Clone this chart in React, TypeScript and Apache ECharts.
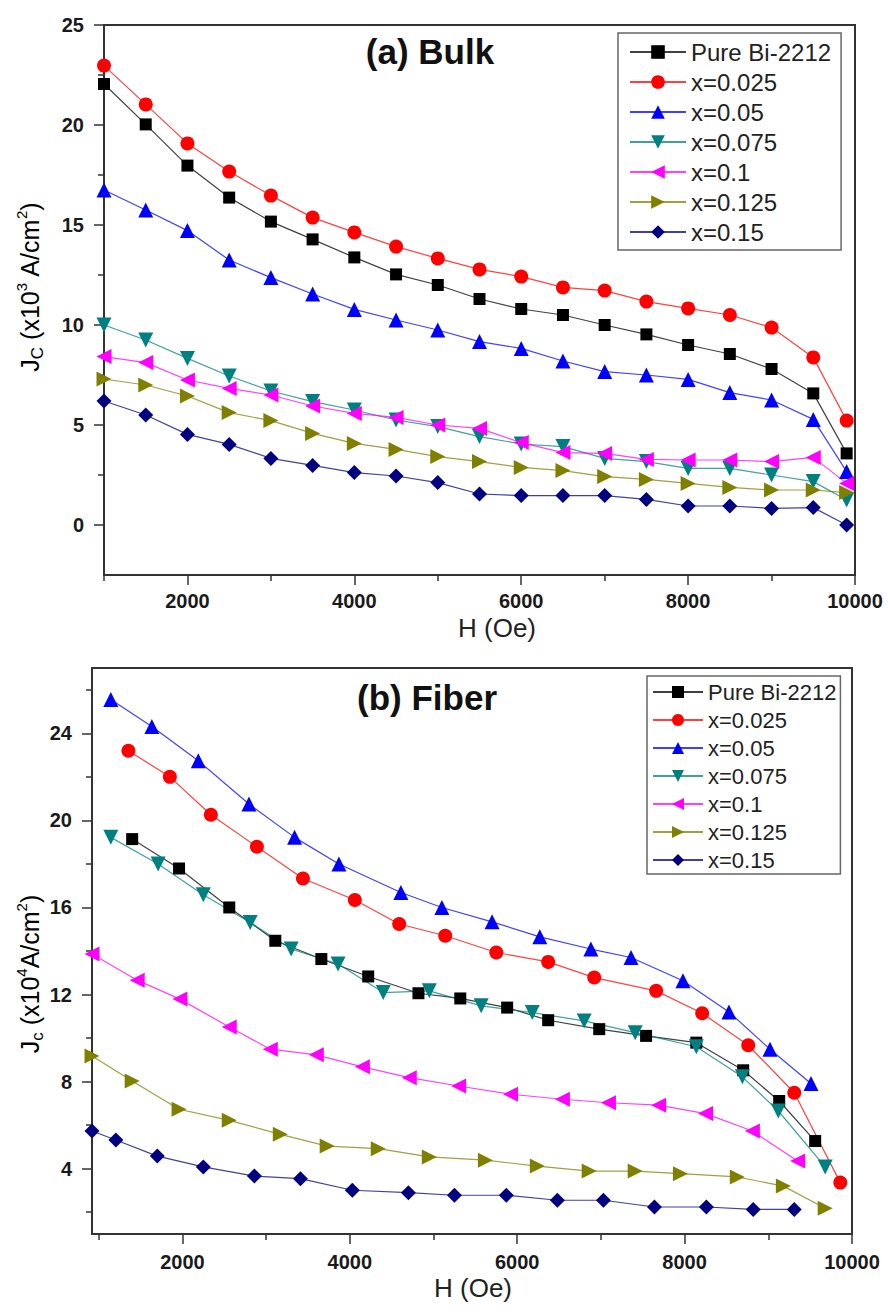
import React, { useEffect, useRef } from "react";
import * as echarts from "echarts";

// ---------- shared series definitions ----------
const seriesNames = ["Pure Bi-2212", "x=0.025", "x=0.05", "x=0.075", "x=0.1", "x=0.125", "x=0.15"];
const seriesColors = ["#000000", "#FF0000", "#0000FF", "#008080", "#FF00FF", "#808000", "#000080"];
const seriesSymbols = ["rect", "circle", "triangle", "triangle", "triangle", "triangle", "diamond"];
const seriesRotates = [0, 0, 0, 180, 90, -90, 0];
const seriesSymbolSizes = [12, 14, 15, 15, 15, 15, 15];

// ---------- (a) Bulk : Jc (x10^3 A/cm^2) vs H (Oe) ----------
const bulkH = [1000, 1500, 2000, 2500, 3000, 3500, 4000, 4500, 5000, 5500, 6000, 6500, 7000, 7500, 8000, 8500, 9000, 9500, 9900];
const bulkPure = [22.05, 20.03, 17.97, 16.37, 15.17, 14.28, 13.38, 12.53, 12.0, 11.3, 10.8, 10.5, 10.0, 9.53, 9.0, 8.55, 7.8, 6.58, 3.58];
const bulkX0025 = [22.97, 21.03, 19.08, 17.67, 16.47, 15.37, 14.63, 13.92, 13.33, 12.78, 12.42, 11.88, 11.72, 11.17, 10.83, 10.5, 9.87, 8.38, 5.22];
const bulkX005 = [16.75, 15.75, 14.72, 13.25, 12.37, 11.55, 10.78, 10.25, 9.75, 9.17, 8.83, 8.2, 7.67, 7.5, 7.28, 6.62, 6.25, 5.28, 2.67];
const bulkX0075 = [10.0, 9.25, 8.33, 7.45, 6.7, 6.17, 5.75, 5.25, 4.92, 4.42, 4.05, 3.92, 3.33, 3.17, 2.83, 2.83, 2.5, 2.17, 1.25];
const bulkX01 = [8.42, 8.12, 7.25, 6.83, 6.5, 5.95, 5.58, 5.38, 5.0, 4.83, 4.12, 3.62, 3.58, 3.28, 3.25, 3.25, 3.17, 3.38, 2.08];
const bulkX0125 = [7.3, 7.0, 6.45, 5.62, 5.22, 4.58, 4.08, 3.78, 3.42, 3.17, 2.88, 2.72, 2.42, 2.28, 2.08, 1.88, 1.75, 1.75, 1.62];
const bulkX015 = [6.2, 5.5, 4.53, 4.03, 3.33, 2.98, 2.62, 2.45, 2.12, 1.55, 1.47, 1.47, 1.47, 1.28, 0.95, 0.95, 0.83, 0.87, 0.0];

const bulkXMajorTicks = [2000, 4000, 6000, 8000, 10000];
const bulkXMinorTicks = [1000, 3000, 5000, 7000, 9000];
const bulkYMajorTicks = [0, 5, 10, 15, 20, 25];
const bulkYMinorTicks = [2.5, 7.5, 12.5, 17.5, 22.5];

// ---------- (b) Fiber : Jc (x10^4 A/cm^2) vs H (Oe) ----------
const fiberPureH = [1400, 1960, 2560, 3110, 3660, 4220, 4820, 5320, 5880, 6370, 6980, 7540, 8140, 8700, 9130, 9560];
const fiberPureJ = [19.14, 17.79, 16.0, 14.47, 13.63, 12.83, 12.06, 11.82, 11.4, 10.82, 10.41, 10.1, 9.79, 8.52, 7.11, 5.27];
const fiberX0025H = [1355, 1850, 2340, 2890, 3440, 4060, 4590, 5140, 5750, 6370, 6920, 7660, 8210, 8760, 9310, 9860];
const fiberX0025J = [23.2, 22.0, 20.26, 18.79, 17.33, 16.34, 15.24, 14.7, 13.93, 13.5, 12.78, 12.17, 11.14, 9.67, 7.49, 3.36];
const fiberX005H = [1145, 1635, 2190, 2795, 3340, 3870, 4610, 5100, 5700, 6270, 6880, 7360, 7980, 8530, 9020, 9510];
const fiberX005J = [25.55, 24.31, 22.74, 20.75, 19.22, 18.0, 16.69, 16.0, 15.34, 14.65, 14.09, 13.7, 12.63, 11.2, 9.49, 7.91];
const fiberX0075H = [1145, 1710, 2250, 2810, 3300, 3860, 4400, 4950, 5570, 6180, 6800, 7410, 8140, 8690, 9120, 9680];
const fiberX0075J = [19.22, 18.0, 16.58, 15.31, 14.09, 13.4, 12.09, 12.17, 11.48, 11.17, 10.79, 10.25, 9.6, 8.22, 6.65, 4.08];
const fiberX01H = [920, 1460, 1970, 2560, 3050, 3600, 4150, 4710, 5300, 5920, 6540, 7090, 7690, 8250, 8810, 9350];
const fiberX01J = [13.86, 12.66, 11.79, 10.51, 9.49, 9.23, 8.68, 8.18, 7.8, 7.42, 7.19, 7.03, 6.92, 6.53, 5.73, 4.35];
const fiberX0125H = [920, 1400, 1960, 2560, 3170, 3730, 4340, 4950, 5620, 6240, 6860, 7410, 7950, 8630, 9180, 9680];
const fiberX0125J = [9.18, 8.03, 6.73, 6.22, 5.58, 5.04, 4.92, 4.54, 4.39, 4.12, 3.89, 3.89, 3.77, 3.62, 3.2, 2.18];
const fiberX015H = [920, 1205, 1700, 2250, 2860, 3410, 4030, 4700, 5250, 5870, 6480, 7030, 7640, 8260, 8820, 9310];
const fiberX015J = [5.73, 5.32, 4.58, 4.08, 3.66, 3.54, 3.01, 2.9, 2.78, 2.78, 2.55, 2.55, 2.24, 2.24, 2.13, 2.13];

const fiberXMajorTicks = [2000, 4000, 6000, 8000, 10000];
const fiberXMinorTicks = [1000, 3000, 5000, 7000, 9000];
const fiberYMajorTicks = [4, 8, 12, 16, 20, 24];
const fiberYMinorTicks = [2, 6, 10, 14, 18, 22, 26];

const FONT = "'Liberation Sans', Arial, Helvetica, sans-serif";

const bulkValues = [bulkPure, bulkX0025, bulkX005, bulkX0075, bulkX01, bulkX0125, bulkX015];
const fiberHs = [fiberPureH, fiberX0025H, fiberX005H, fiberX0075H, fiberX01H, fiberX0125H, fiberX015H];
const fiberJs = [fiberPureJ, fiberX0025J, fiberX005J, fiberX0075J, fiberX01J, fiberX0125J, fiberX015J];

function makeSeries(i: number, data: number[][], axisIndex: number) {
  return {
    type: "line",
    name: seriesNames[i],
    xAxisIndex: axisIndex,
    yAxisIndex: axisIndex,
    data,
    symbol: seriesSymbols[i],
    symbolSize: seriesSymbolSizes[i],
    symbolRotate: seriesRotates[i],
    showSymbol: true,
    itemStyle: { color: seriesColors[i], opacity: 1 },
    lineStyle: { color: seriesColors[i], width: 1.2, opacity: 0.75 },
    emphasis: { disabled: true },
  };
}

function majorAxis(grid: number, min: number, max: number, ticks: number[], margin: number, pos: string) {
  return {
    type: "value",
    gridIndex: grid,
    position: pos,
    min,
    max,
    axisLine: { show: true, onZero: false, lineStyle: { color: "#333", width: 2 } },
    axisTick: { show: true, length: 10, customValues: ticks, lineStyle: { color: "#333", width: 1.5 } },
    axisLabel: {
      show: true,
      customValues: ticks,
      margin,
      formatter: (v: number) => "{b|" + String(v) + "}",
      rich: {
        b: { fontFamily: FONT, fontSize: 20, fontWeight: "bold", color: "#1a1a1a" },
      },
      fontFamily: FONT,
      fontSize: 20,
      fontWeight: "bold",
      color: "#1a1a1a",
    },
    splitLine: { show: false },
  };
}

function minorAxis(grid: number, min: number, max: number, ticks: number[], pos: string) {
  return {
    type: "value",
    gridIndex: grid,
    position: pos,
    min,
    max,
    axisLine: { show: false, onZero: false },
    axisTick: { show: true, length: 6, customValues: ticks, lineStyle: { color: "#333", width: 1.5 } },
    axisLabel: { show: false },
    splitLine: { show: false },
  };
}

function legendFor(left: number, top: number, fontSize: number, itemWidth: number, itemHeight: number, gap: number, padding: number[]) {
  return {
    orient: "vertical",
    left,
    top,
    data: seriesNames,
    selectedMode: false,
    itemWidth,
    itemHeight,
    itemGap: gap,
    padding,
    backgroundColor: "#fff",
    borderColor: "#666",
    borderWidth: 1.5,
    borderRadius: 0,
    textStyle: { fontFamily: FONT, fontSize, lineHeight: fontSize, color: "#222" },
  };
}

export default function App() {
  const ref = useRef<HTMLDivElement>(null);

  useEffect(() => {
    if (!ref.current) return;
    const chart = echarts.init(ref.current, undefined, { renderer: "svg" });

    const series: any[] = [];
    bulkValues.forEach((vals, i) => {
      series.push(makeSeries(i, bulkH.map((h, k) => [h, vals[k]]), 0));
    });
    fiberHs.forEach((hs, i) => {
      series.push(makeSeries(i, hs.map((h, k) => [h, fiberJs[i][k]]), 1));
    });

    const titleStyle = { fontFamily: FONT, fontSize: 35, fontWeight: "bold", fill: "#111", align: "center", verticalAlign: "middle" };
    const hStyle = { fontFamily: FONT, fontSize: 26, fill: "#222", align: "center", verticalAlign: "middle" };
    const richBase = {
      m: { fontFamily: FONT, fontSize: 25, lineHeight: 32, verticalAlign: "middle", color: "#222" },
      sup: { fontFamily: FONT, fontSize: 15, lineHeight: 15, verticalAlign: "top", color: "#222" },
      sub: { fontFamily: FONT, fontSize: 17, lineHeight: 17, verticalAlign: "bottom", color: "#222" },
    };

    chart.setOption({
      animation: false,
      backgroundColor: "#fff",
      grid: [
        { left: 104, top: 25, width: 751, height: 550, show: true, borderColor: "#333", borderWidth: 2, backgroundColor: "transparent" },
        { left: 92, top: 668, width: 760, height: 566, show: true, borderColor: "#333", borderWidth: 2, backgroundColor: "transparent" },
      ],
      xAxis: [
        majorAxis(0, 1000, 10000, bulkXMajorTicks, 16, "bottom"),
        majorAxis(1, 920, 10000, fiberXMajorTicks, 18, "bottom"),
        minorAxis(0, 1000, 10000, bulkXMinorTicks, "bottom"),
        minorAxis(1, 920, 10000, fiberXMinorTicks, "bottom"),
      ],
      yAxis: [
        majorAxis(0, -2.5, 25, bulkYMajorTicks, 20, "left"),
        majorAxis(1, 1, 27, fiberYMajorTicks, 20, "left"),
        minorAxis(0, -2.5, 25, bulkYMinorTicks, "left"),
        minorAxis(1, 1, 27, fiberYMinorTicks, "left"),
      ],
      legend: [
        legendFor(618, 33, 24, 56, 17, 6, [7, 10, 6, 11]),
        legendFor(647, 676, 22, 50, 15, 6, [5, 4, 3, 5]),
      ],
      graphic: [
        { type: "text", x: 430, y: 51, style: { ...titleStyle, text: "(a) Bulk" } },
        { type: "text", x: 427, y: 697, style: { ...titleStyle, text: "(b) Fiber" } },
        { type: "text", x: 497, y: 628, style: { ...hStyle, text: "H (Oe)" } },
        { type: "text", x: 473, y: 1288, style: { ...hStyle, text: "H (Oe)" } },
        {
          type: "text",
          x: 30,
          y: 287,
          rotation: Math.PI / 2,
          style: {
            text: "{m|J}{sub|C}{m| (x10}{sup|3}{m| A/cm}{sup|2}{m|)}",
            rich: richBase,
            align: "center",
            verticalAlign: "middle",
          },
        },
        {
          type: "text",
          x: 30,
          y: 974,
          rotation: Math.PI / 2,
          style: {
            text: "{m|J}{sub|c}{m| (x10}{sup|4}{m|A/cm}{sup|2}{m|)}",
            rich: richBase,
            align: "center",
            verticalAlign: "middle",
          },
        },
      ],
      series,
    });

    return () => {
      chart.dispose();
    };
  }, []);

  return (
    <div
      ref={ref}
      style={{ position: "absolute", left: 0, top: 0, width: 887, height: 1311, background: "#fff" }}
    />
  );
}
